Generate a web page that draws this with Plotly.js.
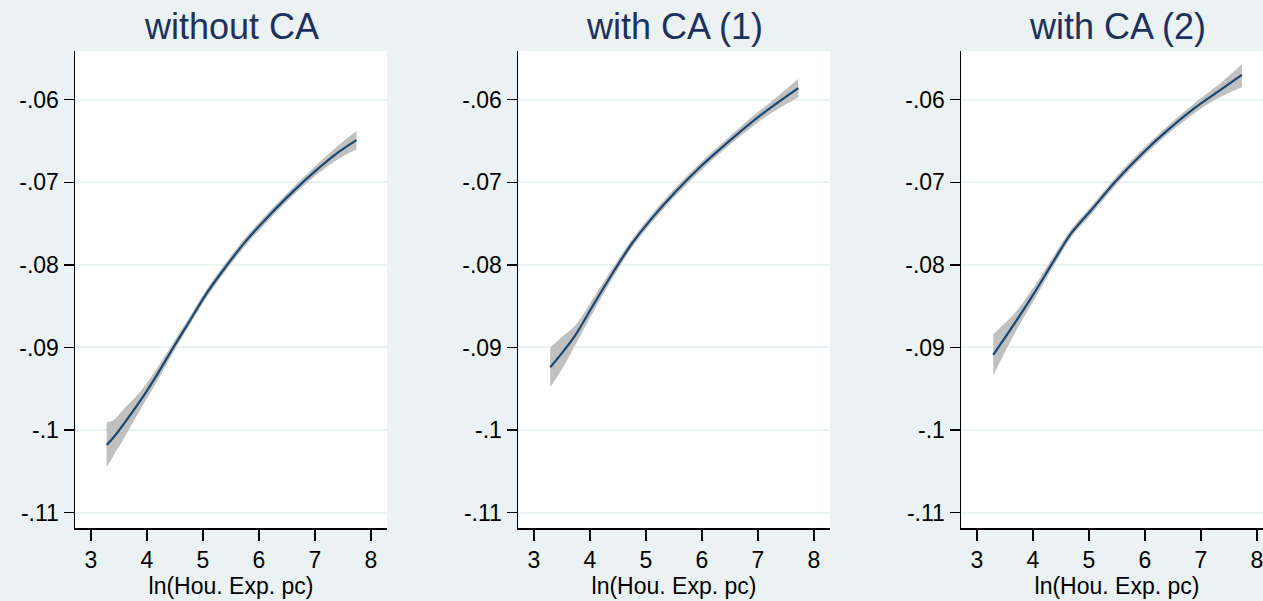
<!DOCTYPE html>
<html>
<head>
<meta charset="utf-8">
<script src="https://cdn.plot.ly/plotly-3.0.1.min.js"></script>
<style>
html,body{margin:0;padding:0;overflow:hidden;background:#eaf2f3;}
#chart{width:1280px;height:601px;}
</style>
</head>
<body>
<div id="chart"></div>
<script>
// Panel titles and axis labels
const panelTitles = ["without CA", "with CA (1)", "with CA (2)"];
const xTitle = "ln(Hou. Exp. pc)";
const xTickVals = [3, 4, 5, 6, 7, 8];
const yTickVals = [-0.11, -0.10, -0.09, -0.08, -0.07, -0.06];
const yTickText = ["-.11", "-.1", "-.09", "-.08", "-.07", "-.06"];

// Panel 1: without CA
const x1  = [3.28, 3.40, 3.58, 3.875, 4.17, 4.47, 4.77, 5.07, 5.42, 5.78, 6.20, 6.61, 7.03, 7.39, 7.74];
const y1  = [-.1018, -.1009, -.0993, -.0965, -.0934, -.0900, -.0867, -.0834, -.0801, -.0770, -.0739, -.0711, -.0685, -.0665, -.0649];
const hi1 = [-.0991, -.0988, -.0975, -.0954, -.0926, -.0894, -.0862, -.0829, -.0796, -.0765, -.0734, -.0706, -.0679, -.0657, -.0638];
const lo1 = [-.1045, -.1031, -.1011, -.0976, -.0942, -.0906, -.0872, -.0839, -.0806, -.0775, -.0744, -.0716, -.0691, -.0673, -.0660];

// Panel 2: with CA (1)
const x2  = [3.29, 3.52, 3.73, 4.09, 4.45, 4.74, 5.10, 5.52, 5.99, 6.47, 6.89, 7.24, 7.72];
const y2  = [-.0924, -.0905, -.0886, -.0845, -.0805, -.0775, -.0744, -.0712, -.0680, -.0651, -.0627, -.0609, -.0586];
const hi2 = [-.0900, -.0886, -.0874, -.0837, -.0799, -.0770, -.0739, -.0707, -.0675, -.0646, -.0621, -.0602, -.0575];
const lo2 = [-.0948, -.0924, -.0898, -.0853, -.0811, -.0780, -.0749, -.0717, -.0685, -.0656, -.0633, -.0616, -.0597];

// Panel 3: with CA (2)
const x3  = [3.29, 3.68, 4.04, 4.39, 4.69, 5.05, 5.46, 5.94, 6.42, 6.89, 7.31, 7.73];
const y3  = [-.0909, -.0870, -.0832, -.0793, -.0761, -.0733, -.0700, -.0666, -.0636, -.0610, -.0590, -.0570];
const hi3 = [-.0884, -.0858, -.0824, -.0787, -.0756, -.0728, -.0695, -.0661, -.0631, -.0604, -.0582, -.0557];
const lo3 = [-.0934, -.0882, -.0840, -.0799, -.0766, -.0738, -.0705, -.0671, -.0641, -.0616, -.0598, -.0585];

const panels = [
  {x: x1, y: y1, hi: hi1, lo: lo1},
  {x: x2, y: y2, hi: hi2, lo: lo2},
  {x: x3, y: y3, hi: hi3, lo: lo3}
];

const W = 1280, H = 601;
const panelLefts = [75, 518, 961], panelW = 312;
const plotTop = 51, plotBottom = 528;
const fontFam = "Liberation Sans, Arial, sans-serif";
const navy = "#1a476f";
const titleColor = "#1e305c";
const bandColor = "#c0c0c0";

const traces = [];
const layout = {
  width: W, height: H,
  margin: {l: 0, r: 0, t: 0, b: 0},
  paper_bgcolor: "#eaf2f3",
  plot_bgcolor: "#ffffff",
  showlegend: false,
  font: {family: fontFam, color: "#000"},
  annotations: []
};

panels.forEach((p, i) => {
  const sfx = i === 0 ? "" : String(i + 1);
  const xa = "x" + sfx, ya = "y" + sfx;
  traces.push({x: p.x, y: p.lo, xaxis: xa, yaxis: ya, type: "scatter", mode: "lines",
    line: {width: 0, color: bandColor, shape: "spline", smoothing: 0.8}, hoverinfo: "skip"});
  traces.push({x: p.x, y: p.hi, xaxis: xa, yaxis: ya, type: "scatter", mode: "lines",
    fill: "tonexty", fillcolor: bandColor,
    line: {width: 0, color: bandColor, shape: "spline", smoothing: 0.8}, hoverinfo: "skip"});
  traces.push({x: p.x, y: p.y, xaxis: xa, yaxis: ya, type: "scatter", mode: "lines",
    line: {width: 2.2, color: navy, shape: "spline", smoothing: 0.8}});

  const d0 = panelLefts[i] / W, d1 = (panelLefts[i] + panelW) / W;
  layout["xaxis" + sfx] = {
    domain: [d0, d1], anchor: ya,
    range: [2.714, 8.286],
    tickvals: xTickVals,
    ticks: "outside", ticklen: 11, tickwidth: 1.5, tickcolor: "#000",
    showline: true, linecolor: "#000", linewidth: 1.5,
    showgrid: false, zeroline: false,
    tickfont: {family: fontFam, size: 23, color: "#000"},
    title: {text: xTitle, font: {family: fontFam, size: 23, color: "#000"}, standoff: 0},
    automargin: false, fixedrange: true
  };
  layout["yaxis" + sfx] = {
    domain: [1 - plotBottom / H, 1 - plotTop / H], anchor: xa,
    range: [-0.11186, -0.0541],
    tickvals: yTickVals, ticktext: yTickText,
    ticks: "outside", ticklen: 10, tickwidth: 1.5, tickcolor: "#000",
    showline: true, linecolor: "#000", linewidth: 1.5,
    showgrid: true, gridcolor: "#eaf2f3", gridwidth: 2,
    zeroline: false,
    tickfont: {family: fontFam, size: 23, color: "#000"},
    automargin: false, fixedrange: true
  };
  layout.annotations.push({
    text: panelTitles[i], xref: "paper", yref: "paper",
    x: (d0 + d1) / 2, y: 1 - 27 / H, xanchor: "center", yanchor: "middle",
    showarrow: false, font: {family: fontFam, size: 36, color: titleColor}
  });
});

Plotly.newPlot("chart", traces, layout, {displayModeBar: false, staticPlot: true});
</script>
</body>
</html>
